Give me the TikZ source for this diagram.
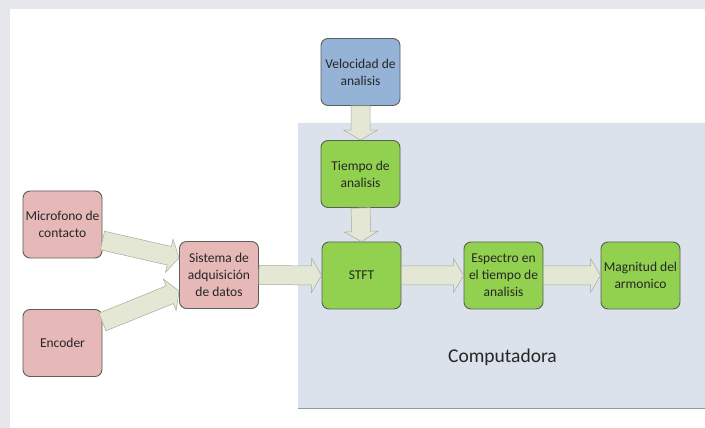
\documentclass[tikz,border=0pt]{standalone}
\usepackage{fontspec}
\setmainfont{Carlito}
\usetikzlibrary{calc}
\definecolor{framegray}{HTML}{E6E7EA}
\definecolor{compbg}{HTML}{DBE2EC}
\definecolor{compline}{HTML}{8F9AA8}
\definecolor{pinkfill}{HTML}{E6B9B8}
\definecolor{bluefill}{HTML}{95B3D7}
\definecolor{greenfill}{HTML}{92D050}
\definecolor{boxline}{HTML}{5A5F58}
\definecolor{arrowfill}{HTML}{E3E7D4}
\definecolor{arrowline}{HTML}{A6AB9C}
\definecolor{txt}{HTML}{262626}
\tikzset{
  blockbox/.style={draw=boxline, line width=0.9pt, rounded corners=7pt,
    minimum width=79pt, minimum height=67pt, inner sep=1pt, align=center,
    text=txt, font=\fontsize{13.5}{17}\selectfont},
  pinkbox/.style={blockbox, fill=pinkfill},
  bluebox/.style={blockbox, fill=bluefill},
  greenbox/.style={blockbox, fill=greenfill},
  barrowsty/.style={fill=arrowfill, draw=arrowline, line width=0.5pt, line join=miter},
}
\newcommand\blockarrow[2]{%
  \draw[barrowsty] let \p1=(#1), \p2=(#2),
    \n1={atan2(\y2-\y1,\x2-\x1)}, \n2={veclen(\x2-\x1,\y2-\y1)} in
    [shift={(\p1)}, rotate=\n1]
    (0pt,-9.5pt) -- ({(\n2-10)*1pt},-9.5pt) -- ({(\n2-10)*1pt},-17pt)
    -- ({\n2*1pt},0pt) -- ({(\n2-10)*1pt},17pt) -- ({(\n2-10)*1pt},9.5pt)
    -- (0pt,9.5pt) -- cycle;}
\begin{document}
\begin{tikzpicture}[x=1pt,y=1pt]
\useasboundingbox (0,0) rectangle (705,428);
\fill[framegray] (0,0) rectangle (705,428);
\fill[white] (10,0) rectangle (705,419);
% Computadora region
\fill[compbg] (298,19) rectangle (705,306);
\draw[compline, line width=1.2pt] (298,19.6) -- (705,19.6);
\draw[white!85!compbg, line width=0.8pt] (298,306) -- (705,306);
\node[text=txt, font=\fontsize{19.5}{22}\selectfont] (comp) at (502.5,71) {Computadora};
% nodes
\node[bluebox]  (vel)  at (360.5,356)   {Velocidad de\\analisis};
\node[greenbox] (tie)  at (360.5,254)   {Tiempo de\\analisis};
\node[greenbox] (stft) at (361.5,152.5) {STFT};
\node[greenbox] (esp)  at (503.5,152.5) {Espectro en\\el tiempo de\\analisis};
\node[greenbox] (mag)  at (640.5,152.5) {Magnitud del\\armonico};
\node[pinkbox]  (mic)  at (62.5,203.5)  {Microfono de\\contacto};
\node[pinkbox]  (enc)  at (62.5,85)     {Encoder};
\node[pinkbox]  (sis)  at (219,153)     {Sistema de\\adquisición\\de datos};
% arrows
\blockarrow{vel.south}{tie.north}
\blockarrow{tie.south}{stft.north}
\blockarrow{sis.east}{stft.west}
\blockarrow{stft.east}{esp.west}
\blockarrow{esp.east}{mag.west}
\blockarrow{$(mic.east)+(0,-16)$}{$(sis.west)+(0,17)$}
\blockarrow{$(enc.east)+(0,21)$}{$(sis.west)+(0,-16)$}
\end{tikzpicture}
\end{document}
